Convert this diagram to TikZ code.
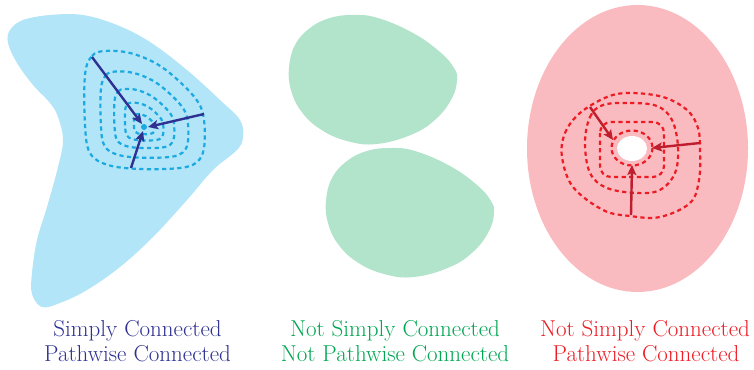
\documentclass[tikz,border=0pt]{standalone}
\usetikzlibrary{arrows.meta}
\definecolor{bluefill}{RGB}{179,229,248}
\definecolor{bluedash}{RGB}{27,169,225}
\definecolor{bluearrow}{RGB}{46,49,146}
\definecolor{greenfill}{RGB}{178,227,203}
\definecolor{greentext}{RGB}{0,166,81}
\definecolor{redfill}{RGB}{249,187,192}
\definecolor{reddash}{RGB}{237,28,36}
\definecolor{redarrow}{RGB}{190,30,45}
\tikzset{
  loopline/.style={line width=2.2pt, dash pattern=on 4.2pt off 3.4pt},
  arrowline/.style={line width=2.4pt, -{Stealth[length=10pt,width=9pt,inset=2pt]}},
  caption/.style={anchor=base, inner sep=0pt, font=\fontsize{23}{26}\selectfont}
}
\begin{document}
\begin{tikzpicture}[x=1pt,y=-1pt]
\useasboundingbox (0,0) rectangle (754,369);
% ---------------- blue region ----------------
\fill[bluefill] plot[smooth cycle, tension=0.6] coordinates {
 (10,30)(23,20)(50,15)(83,15)(117,25)(150,42)(187,70)(220,100)(240,120)
 (243,137)(237,150)(213,170)(187,200)(153,237)(120,267)(87,290)(60,303)
 (42,307)(32,294)(32,273)(37,240)(47,207)(58,167)(63,140)(58,117)(50,103)
 (33,85)(17,63)(8,43)};
\foreach \s in {1,0.73,0.5,0.32,0.17}{
  \begin{scope}[shift={(144,127)}, scale=\s]
    \draw[bluedash, loopline] plot[smooth cycle, tension=0.6] coordinates {
      (-59,-52)(-52,-71)(-39,-76)(-14,-74)(13,-63)(36,-45)(54,-25)(60,-7)
      (60,21)(53,35)(36,41)(-4,42)(-36,38)(-54,26)(-59,-2)};
  \end{scope}
}
\node[circle, fill=bluedash, inner sep=0pt, minimum size=6pt] (bdot) at (144,127) {};
\coordinate (b1) at (92,57);
\coordinate (b2) at (204,114);
\coordinate (b3) at (131,168);
\coordinate (b1e) at (142,124);
\coordinate (b2e) at (148,127);
\coordinate (b3e) at (143,131);
\draw[bluearrow, arrowline] (b1) -- (b1e);
\draw[bluearrow, arrowline] (b2) -- (b2e);
\draw[bluearrow, arrowline] (b3) -- (b3e);
% ---------------- green regions ----------------
\foreach \dx/\dy in {0/0, 37/133}{
  \fill[greenfill, shift={(\dx,\dy)}] plot[smooth cycle, tension=0.7] coordinates {
   (289,68)(295,45)(310,28)(330,18)(353,15)(378,18)(413,33)(440,52)(454,68)(457,80)
   (452,98)(437,118)(413,134)(377,144)(347,141)(320,129)(301,111)(291,90)};
}
% ---------------- red region ----------------
\fill[redfill] (637.5,148.5) ellipse [x radius=110.5, y radius=143.5];
\fill[white] (632,148.5) ellipse [x radius=15, y radius=12.5];
\draw[reddash, loopline] plot[smooth cycle, tension=0.6] coordinates {
 (562,157)(565,133)(580,113)(607,97)(630,93)(663,97)(687,110)(698,128)
 (700,150)(699,180)(690,203)(660,217)(630,216)(603,210)(573,187)};
\draw[reddash, loopline] plot[smooth cycle, tension=0.6] coordinates {
 (585,143)(590,117)(603,105)(630,103)(657,106)(672,120)(678,147)(675,173)
 (660,190)(637,193)(607,188)(590,173)};
\draw[reddash, loopline, rounded corners=11pt] (600,122) rectangle (664,177);
\draw[reddash, loopline] (632,148) ellipse [x radius=20.5, y radius=17.5];
\coordinate (r1) at (590,107);
\coordinate (r2) at (700,143);
\coordinate (r3) at (631,215);
\coordinate (r1e) at (613,140);
\coordinate (r2e) at (652,148);
\coordinate (r3e) at (632,165);
\draw[redarrow, arrowline] (r1) -- (r1e);
\draw[redarrow, arrowline] (r2) -- (r2e);
\draw[redarrow, arrowline] (r3) -- (r3e);
% ---------------- captions ----------------
\node[caption, text=bluearrow] (c1a) at (137.5,336.7) {Simply Connected};
\node[caption, text=bluearrow] (c1b) at (137.5,361.7) {Pathwise Connected};
\node[caption, text=greentext] (c2a) at (395,336.7) {Not Simply Connected};
\node[caption, text=greentext] (c2b) at (395,361.7) {Not Pathwise Connected};
\node[caption, text=reddash] (c3a) at (645,336.7) {Not Simply Connected};
\node[caption, text=reddash] (c3b) at (646,361.7) {Pathwise Connected};
\end{tikzpicture}
\end{document}
